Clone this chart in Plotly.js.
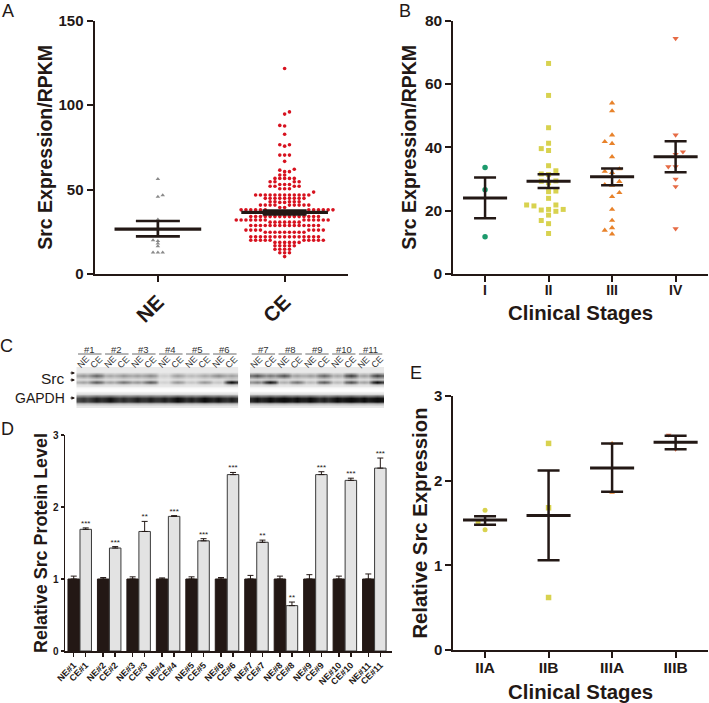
<!DOCTYPE html>
<html><head><meta charset="utf-8">
<script src="https://cdn.plot.ly/plotly-3.0.1.min.js"></script>
<style>html,body{margin:0;padding:0;background:#fff}#p{width:709px;height:703px}</style>
</head><body><div id="p"></div>
<script>
// ---------- Panel A
var neValues=[56.2,46.7,45.8,32.3,20,19.5,18,16.4,12.8,12.8,12.8];
var ceValues=[121.7,96,94.7,88,87.6,82.8,76.5,76.5,75.7,70.4,70.4,70.4,66.7,62,61.5,60.6,60.6,58.6,58.6,
56.6,56.6,56.6,56.6,56.6,54.6,54.6,54.6,54.6,53,53,53,52,52,52,52,50.5,50.5,50.5,48.5,
46.8,46.8,46.8,46.8,46.8,46.8,46.8,46.8,46.8,46.8,46.8,46.8,44.8,44.8,44.8,44.8,44.8,44.8,44.8,44.8,44.8,
42.8,42.8,42.8,42.8,42.8,42.4,42.4,40.8,40.8,40.8,40.8,40.8,40.8,40.8,40.8,40.8,39.4,39.4,
38,38,38,38,38,38,38,38,38,38,38,38,
36.3,36.3,36.3,36.3,36.3,36.3,36.3,36.3,34,34,34,34,34,34,34,34,34,34,34,34,34,34,34,
32,32,32,32,32,32,32,32,32,32,32,32,32,30.7,30.7,30.7,30.7,30.7,30.7,30.7,
28.7,28.7,28.7,28.7,28.7,28.7,28.7,28.7,28.7,28.7,28.7,28.7,28.7,28.7,28.7,
26,26,26,26,26,26,26,26,24.7,24.7,24.7,24.7,24.7,24.7,24.7,24.7,24.7,
22,22,22,22,22,22,22,22,22,22,22,22,22,22,22,
20,20,20,20,20,20,20,20,20,20,18.7,18.7,18.7,18.7,18.7,18.7,
16.7,16.7,16.7,16.7,16.7,14.7,14.7,14.7,14.7,12.6,12.6,12.6,10.3];
var aCats=['NE','CE'];
var aMeans=[26.6,36.5],aHi=[31.4,37.6],aLo=[22.3,35.3];
// ---------- Panel B
var bCats=['I','II','III','IV'];
var stageI=[33.6,26.6,11.8];
var stageII=[66.5,56.4,46.2,41.3,39.6,39,34.2,32.6,31.6,31.4,29.4,29.3,28.8,26.2,26,23.9,21.8,21.8,21.5,20.4,20.4,20.2,19.8,18.6,16.9,15.9,12.8];
var stageIII=[54,51.5,43.9,41.8,41.2,37,33.2,32.4,32,29.2,28.2,28,25.7,24.4,20.4,16.9,14.6,13.8,12.6];
var stageIV=[74.4,43.9,38.6,37.8,33.9,33.9,30,27.6,14.3];
var bMeans=[24,29.3,30.7,37],bHi=[30.5,31.5,33.3,41.9],bLo=[17.6,27.2,28,32.1];
// ---------- Panel C (band darkness 0..1 per lane)
var groupsLeft=['#1','#2','#3','#4','#5','#6'],groupsRight=['#7','#8','#9','#10','#11'];
var upperLeft=[.45,.7,.35,.45,.4,.5,.15,.4,.25,.35,.5,.4];
var lowerLeft=[.3,.6,.3,.5,.35,.6,.1,.35,.15,.35,.15,.95];
var gapdhLeft=[.75,.85,.9,.8,.85,.85,.85,.95,.85,.95,.9,.85];
var upperRight=[.8,.6,.8,.4,.4,.7,.35,.9,.4,.9];
var lowerRight=[.45,.9,.25,.5,.2,.6,.2,.65,.3,.95];
var gapdhRight=[.9,.95,1,.95,.95,.85,.95,1,.95,1];
// ---------- Panel D
var dCE=[1.69,1.43,1.66,1.87,1.53,2.45,1.51,.63,2.45,2.37,2.54];
var dCEerr=[.02,.02,.14,.01,.03,.03,.03,.05,.04,.03,.14];
var dNEerr=[.04,.02,.03,.015,.03,.02,.05,.04,.06,.04,.07];
var dNE=[1,1,1,1,1,1,1,1,1,1,1];
var dStars=['***','***','**','***','***','***','**','**','***','***','***'];
var dGroups=['#1','#2','#3','#4','#5','#6','#7','#8','#9','#10','#11'];
// ---------- Panel E
var eCats=['IIA','IIB','IIIA','IIIB'];
var eIIA=[1.65,1.51,1.42],eIIB=[2.44,1.68,.62],eIIIA=[2.44,1.86],eIIIB=[2.54,2.37];
var eMeans=[1.535,1.59,2.15,2.455],eHi=[1.58,2.12,2.44,2.53],eLo=[1.48,1.06,1.87,2.37];

var INK='#231815',FONT='"Liberation Sans",Arial,sans-serif',BOLD='"Liberation Sans",Arial,sans-serif';
function dx(a,b){return [a/709,b/709];}
function dy(bottom,top){return [(703-bottom)/703,(703-top)/703];}
function swarm(vals,centre,step,minDy){
  var s=vals.slice().sort(function(a,b){return a-b}),cols={},xs=[],flip=-1;
  s.forEach(function(v){
    for(var k=0;k<60;k++){
      var c=k===0?0:(k%2?1:-1)*flip*Math.ceil(k/2);
      var list=cols[c]||(cols[c]=[]);
      if(list.every(function(u){return Math.abs(u-v)>=minDy})){list.push(v);xs.push(centre+c*step);if(c!==0)flip=-flip;break;}
    }
  });
  return {x:xs,y:s};
}
function dots(vals,centre,step,minDy,ax,symbol,size,color){
  var p=swarm(vals,centre,step,minDy);
  return {type:'scatter',mode:'markers',x:p.x,y:p.y,xaxis:'x'+ax,yaxis:'y'+ax,cliponaxis:false,
    marker:{symbol:symbol,size:size,color:color,line:{width:0}},hoverinfo:'skip'};
}
function summary(ax,means,hi,lo,halfMean,capPx,w){
  var idx=means.map(function(_,i){return i});
  return {type:'scatter',mode:'markers',x:idx,y:means,xaxis:'x'+ax,yaxis:'y'+ax,marker:{size:1,opacity:0},cliponaxis:false,hoverinfo:'skip',
    error_x:{type:'constant',value:halfMean,thickness:w,width:0,color:INK},
    error_y:{type:'data',symmetric:false,array:hi.map(function(h,i){return h-means[i]}),arrayminus:lo.map(function(l,i){return means[i]-l}),thickness:w-0.5,width:capPx,color:INK}};
}
function heat(ax,upper,lower,gapdh){
  var rowU=[0,0,0,.1,.5,.95,.5,.1,0,0,0,0,0,0,0,0,0,0,0,0,0,0,0,0,0,0];
  var rowL=[0,0,0,0,0,0,0,.1,.5,.95,.5,.1,0,0,0,0,0,0,0,0,0,0,0,0,0,0];
  var rowG=[0,0,0,0,0,0,0,0,0,0,0,0,0,0,0,0,0,.15,.55,.95,1,.95,.5,.15,0,0];
  var rowB=[.09,.09,.09,.09,.09,.09,.09,.09,.09,.09,.09,.09,.08,.02,0,.03,.1,.1,.1,.1,.1,.1,.1,.1,.1,.09];
  var laneSamples=[-1/3,0,1/3],bump=[.8,1,.8],xs=[];
  upper.forEach(function(_,i){laneSamples.forEach(function(o){xs.push(i+o)})});
  var z=rowB.map(function(b,r){
    var row=[];
    upper.forEach(function(_,i){bump.forEach(function(f){
      var soft=rowG[r]>0?(0.5+f/2):f;
      row.push(Math.min(1,b+soft*(rowU[r]*upper[i]+rowL[r]*lower[i]+rowG[r]*gapdh[i])));
    })});
    return row;
  });
  return {type:'heatmap',x:xs,z:z,xaxis:'x'+ax,yaxis:'y'+ax,zmin:0,zmax:1,zsmooth:'best',showscale:false,hoverinfo:'skip',
    colorscale:[[0,'#ffffff'],[1,'#0c0c0c']]};
}
var RED='#d7121f',YEL='#d8d24f',GRN='#1c9a6c',ORA='#e8822a',VER='#e66b45';
var step=4.83/126.6,bStep=7.3/63.4;
var posNE=dGroups.map(function(_,i){return i-0.2037}),posCE=dGroups.map(function(_,i){return i+0.2037});
var traces=[
  dots(neValues,0,step,1.5,'','triangle-up',4,'#8a8a8a'),
  dots(ceValues,1,step,2,'','circle',3.6,RED),
  summary('',aMeans,aHi,aLo,0.342,22,3.2),
  dots(stageI,0,bStep,2,'2','circle',5.5,GRN),
  dots(stageII,1,bStep,1.7,'2','square',5,YEL),
  dots(stageIII,2,bStep,2,'2','triangle-up',5.5,ORA),
  dots(stageIV,3,bStep,2,'2','triangle-down',5.5,VER),
  summary('2',bMeans,bHi,bLo,0.347,11,3),
  {type:'bar',x:posNE,y:dNE,width:.39,xaxis:'x3',yaxis:'y3',marker:{color:INK,line:{color:INK,width:1}},hoverinfo:'skip',
    error_y:{type:'data',symmetric:false,array:dNEerr,arrayminus:dNE.map(function(){return 0}),thickness:1,width:3,color:INK}},
  {type:'bar',x:posCE,y:dCE,width:.39,xaxis:'x3',yaxis:'y3',marker:{color:'#e3e3e3',line:{color:'#3a3a3a',width:1}},hoverinfo:'skip',
    error_y:{type:'data',symmetric:false,array:dCEerr,arrayminus:dCE.map(function(){return 0}),thickness:1,width:3,color:INK}},
  {type:'scatter',mode:'text',x:posCE,y:dCE.map(function(v,i){return v+dCEerr[i]}),text:dStars,textposition:'top center',cliponaxis:false,
    textfont:{family:BOLD,size:8,color:INK},xaxis:'x3',yaxis:'y3',hoverinfo:'skip'},
  dots(eIIA,0,0.11,0.2,'4','circle',5,YEL),
  dots(eIIB,1,0.11,0.2,'4','square',5.5,YEL),
  dots(eIIIA,2,0.11,0.2,'4','triangle-up',5,ORA),
  dots(eIIIB,3,0.11,0.2,'4','triangle-down',5,VER),
  summary('4',eMeans,eHi,eLo,0.347,11,3),
  heat('5',upperLeft,lowerLeft,gapdhLeft),
  heat('6',upperRight,lowerRight,gapdhRight)
];
function yAxis(domain,range,dtick,anchor,tickSize,titleText,titleSize,standoff){
  return {domain:domain,range:range,dtick:dtick,tick0:0,anchor:anchor,showgrid:false,zeroline:false,showline:true,linecolor:INK,linewidth:2,
    ticks:'outside',ticklen:6,tickwidth:2,tickcolor:INK,tickfont:{family:BOLD,size:tickSize,color:INK,weight:'bold'},
    title:{text:'<b>'+titleText+'</b>',font:{family:BOLD,size:titleSize,color:INK},standoff:standoff}};
}
function xAxis(domain,range,vals,text,anchor,tickSize,angle,titleText,standoff,labelShift){
  var a={domain:domain,range:range,anchor:anchor,tickmode:'array',tickvals:vals,ticktext:text,tickangle:angle,showgrid:false,zeroline:false,showline:true,linecolor:INK,linewidth:2,
    ticks:'outside',ticklen:6,tickwidth:2,tickcolor:INK,tickfont:{family:BOLD,size:tickSize,color:INK,weight:'bold'}};
  if(labelShift)a.ticklabelstandoff=labelShift;
  if(titleText)a.title={text:'<b>'+titleText+'</b>',font:{family:BOLD,size:20.4,color:INK},standoff:standoff};
  return a;
}
function hiddenAxis(domain,range,anchor){return {domain:domain,range:range,anchor:anchor,visible:false,fixedrange:true};}

var dTickVals=[],dTickText=[];
dGroups.forEach(function(g,i){dTickVals.push(posNE[i],posCE[i]);dTickText.push('NE'+g,'CE'+g);});

var anns=[],shapes=[];
function paperText(t,x,y,size,opt){
  anns.push(Object.assign({text:t,xref:'paper',yref:'paper',x:x/709,y:(703-y)/703,showarrow:false,xanchor:'center',yanchor:'middle',
    font:{family:FONT,size:size,color:INK}},opt||{}));
}
function arrowTo(x,y){
  anns.push({text:'',xref:'paper',yref:'paper',x:x/709,y:(703-y)/703,showarrow:true,axref:'pixel',ayref:'pixel',ax:-6,ay:0,arrowhead:2,arrowsize:.7,arrowwidth:1,arrowcolor:INK});
}
paperText('A',8,11,18);paperText('B',405,11,18);paperText('C',6,345.5,18);paperText('D',7,429,18);paperText('E',415.5,373,18);
paperText('Src',67,378,15.5,{xanchor:'right'});
arrowTo(75,373);arrowTo(75,380);
paperText('GAPDH',67,398,14,{xanchor:'right'});
arrowTo(75,398);
function blotLabels(groups,ax){
  groups.forEach(function(g,i){
    var c=2*i+0.5;
    anns.push({text:g,xref:'x'+ax,yref:'paper',x:c,y:(703-349)/703,showarrow:false,xanchor:'center',yanchor:'middle',font:{family:FONT,size:9.5,color:'#333'}});
    anns.push({text:'NE',xref:'x'+ax,yref:'paper',x:2*i,y:(703-362)/703,showarrow:false,xanchor:'center',yanchor:'middle',textangle:-45,font:{family:FONT,size:9,color:'#333'}});
    anns.push({text:'CE',xref:'x'+ax,yref:'paper',x:2*i+1,y:(703-362)/703,showarrow:false,xanchor:'center',yanchor:'middle',textangle:-45,font:{family:FONT,size:9,color:'#333'}});
    shapes.push({type:'line',xref:'x'+ax,yref:'paper',x0:c-.87,x1:c+.87,y0:(703-354)/703,y1:(703-354)/703,line:{color:'#444',width:.8}});
  });
}
blotLabels(groupsLeft,'5');blotLabels(groupsRight,'6');

var layout={width:709,height:703,margin:{l:0,r:0,t:0,b:0},paper_bgcolor:'#fff',plot_bgcolor:'#fff',showlegend:false,barmode:'overlay',
  annotations:anns,shapes:shapes,font:{family:FONT},
  xaxis:xAxis(dx(94.5,348),[-.5,1.5],[0,1],aCats,'y',20.5,-45),
  yaxis:yAxis(dy(274,20.7),[0,150],50,'x',15,'Src Expression/RPKM',19.5,1),
  xaxis2:xAxis(dx(453.3,708),[-.5,3.51],[0,1,2,3],bCats,'y2',14,0,'Clinical Stages',9,-4),
  yaxis2:yAxis(dy(274,20.7),[0,80],20,'x2',15.5,'Src Expression/RPKM',19.5,3),
  xaxis3:xAxis(dx(65,391.7),[-.5,10.59],dTickVals,dTickText,'y3',9,-45),
  yaxis3:yAxis(dy(651,435),[0,3],1,'x3',10,'Relative Src Protein Level',17.9,0),
  xaxis4:xAxis(dx(453.3,708),[-.5,3.51],[0,1,2,3],eCats,'y4',15.5,0,'Clinical Stages',12,-4),
  yaxis4:yAxis(dy(650,396),[0,3],1,'x4',15,'Relative Src Expression',20.3,1),
  xaxis5:hiddenAxis(dx(76.3,238.3),[-.5,11.5],'y5'),
  yaxis5:hiddenAxis(dy(408,367.04),[25.5,-.5],'x5'),
  xaxis6:hiddenAxis(dx(250,384),[-.5,9.5],'y6'),
  yaxis6:hiddenAxis(dy(408,367.04),[25.5,-.5],'x6')
};
layout.xaxis3.ticklen=4;layout.xaxis3.tickwidth=1.5;layout.yaxis3.ticklen=3;layout.xaxis3.linewidth=1.5;layout.yaxis3.linewidth=1.5;
Plotly.newPlot('p',traces,layout,{displayModeBar:false,staticPlot:true});
</script></body></html>
